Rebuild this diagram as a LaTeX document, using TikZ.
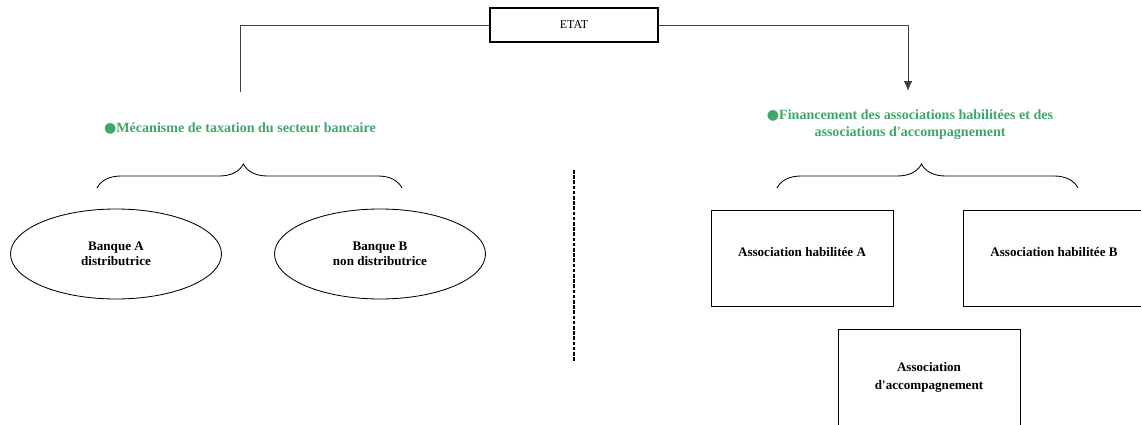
\documentclass[tikz,border=0pt]{standalone}
\usepackage{fontspec}
\setmainfont{Liberation Serif}
\newfontfamily\symfont{DejaVu Sans}
\usepackage{xcolor}
\usetikzlibrary{shapes.geometric,arrows.meta,decorations.pathreplacing}

\definecolor{headgreen}{RGB}{62,168,106}
\newcommand{\hbullet}{{\symfont\fontsize{10}{10}\selectfont ●}}

\tikzset{
  etatbox/.style={draw, line width=1.6pt, minimum width=168*0.025cm, minimum height=34*0.025cm, font=\fontsize{8.5}{10}\selectfont},
  heading/.style={text=headgreen, font=\fontsize{10}{12}\selectfont\bfseries, align=center},
  bankellipse/.style={draw, ellipse, line width=0.6pt, minimum width=211*0.025cm, minimum height=90*0.025cm, inner sep=0pt, align=center, font=\fontsize{9.3}{11}\selectfont\bfseries},
  assocbox/.style={draw, line width=0.6pt, minimum width=182*0.025cm, minimum height=96*0.025cm, align=center, font=\fontsize{9.3}{12.8}\selectfont\bfseries},
  linkline/.style={draw=black!75, line width=0.7pt},
  bracelink/.style={decorate, decoration={brace, amplitude=0.6cm, aspect=0.48}, line width=0.6pt},
}

\begin{document}
\begin{tikzpicture}[x=0.025cm, y=-0.025cm]
  \useasboundingbox (0,0) rectangle (1141,425);

  % ETAT box - top
  \node[etatbox] (etat) at (574,25) {ETAT};

  % Ends of the two links
  \coordinate (lefttop) at (240,92);
  \coordinate (righttop) at (908,91);
  \draw[linkline] (etat.west) -| (lefttop);
  \draw[linkline, -{Latex[length=7pt, width=6pt]}] (etat.east) -| (righttop);

  % Headings
  \node[heading] (taxation) at (240,128) {\hbullet Mécanisme de taxation du secteur bancaire};
  \node[heading] (financement) at (910,125) {\hbullet Financement des associations habilitées et des\\associations d\textquotesingle accompagnement};

  % Braces
  \coordinate (lbraceA) at (97,188);
  \coordinate (lbraceB) at (402,188);
  \coordinate (rbraceA) at (777,188);
  \coordinate (rbraceB) at (1078,188);
  \draw[bracelink] (lbraceA) -- (lbraceB);
  \draw[bracelink] (rbraceA) -- (rbraceB);

  % Banks - left
  \node[bankellipse] (banqueA) at (116,254) {Banque A\\distributrice};
  \node[bankellipse] (banqueB) at (380,254) {Banque B\\non distributrice};

  % Separator
  \coordinate (septop) at (574,170);
  \coordinate (sepbot) at (574,362);
  \draw[line width=1.3pt, dash pattern=on 2.5pt off 1.2pt] (septop) -- (sepbot);

  % Associations - right
  \node[assocbox, text depth=9pt] (habA) at (802,258) {Association habilitée A};
  \node[assocbox, text depth=9pt] (habB) at (1054,258) {Association habilitée B};
  \node[assocbox] (accomp) at (929,377) {Association\\d\textquotesingle accompagnement};
\end{tikzpicture}
\end{document}
